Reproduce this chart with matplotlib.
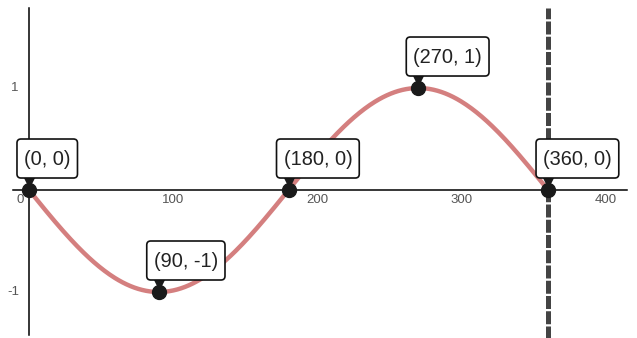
import numpy as np
import matplotlib
matplotlib.use('Agg')
import matplotlib.pyplot as plt
from matplotlib import transforms
from matplotlib.patches import FancyBboxPatch

# labelled points on the curve y = -sin(x), x in degrees
pt_x = [0, 90, 180, 270, 360]
pt_y = [0, -1, 0, 1, 0]
pt_labels = ['(0, 0)', '(90, -1)', '(180, 0)', '(270, 1)', '(360, 0)']
asymptote_x = 360
x_ticks = [100, 200, 300, 400]
y_ticks = [-1, 1]

plt.rcParams['font.family'] = ['Liberation Sans', 'DejaVu Sans']

fig = plt.figure(figsize=(6.37, 3.38), dpi=100)
ax = fig.add_axes([0, 0, 1, 1])
ax.set_xlim(-20.1, 421.7)
ax.set_ylim(-1.451, 1.863)

# axes through the origin
ax.plot([-11, 415], [0, 0], color='black', lw=1.1, zorder=1)
ax.plot([0, 0], [-1.42, 1.78], color='black', lw=1.1, zorder=1)
for s in ax.spines.values():
    s.set_visible(False)
ax.set_xticks([])
ax.set_yticks([])

for t in x_ticks:
    ax.text(t, -0.1, str(t), ha='center', va='center', fontsize=9.5, color='#555555')
ax.text(-6, -0.1, '0', ha='center', va='center', fontsize=9.5, color='#555555')
for t in y_ticks:
    ax.text(-7, t, str(t), ha='right', va='center', fontsize=9.5, color='#555555')

# curve
xs = np.linspace(0, 360, 400)
ax.plot(xs, -np.sin(np.radians(xs)), color='#d47f7f', lw=3.2, zorder=2,
        solid_capstyle='butt')

# dashed vertical line
ax.plot([asymptote_x, asymptote_x], [-1.5, 1.78], color='#444444', lw=3.6,
        dashes=(2.6, 0.45), zorder=3)

# points
ax.plot(pt_x, pt_y, 'o', color='#1a1a1a', ms=10, zorder=5)

# label boxes with pointer (box geometry in pixels)
tri = transforms.offset_copy(ax.transData, fig=fig, x=0, y=9, units='dots')
ax.plot(pt_x, pt_y, 'v', color='#1a1a1a', ms=8, transform=tri, zorder=6)
texts = []
for x, y, lab in zip(pt_x, pt_y, pt_labels):
    t = ax.annotate(lab, (x, y), xytext=(-5, 31), textcoords='offset pixels',
                    ha='left', va='center', fontsize=14.4, color='#222222', zorder=8)
    texts.append(t)

renderer = fig.canvas.get_renderer()
for x, y, t in zip(pt_x, pt_y, texts):
    px, py = ax.transData.transform((x, y))
    ext = t.get_window_extent(renderer)
    box = FancyBboxPatch((px - 12, py + 12), ext.width + 14, 39,
                         boxstyle='round,pad=0,rounding_size=4',
                         fc='white', ec='#111111', lw=1.2,
                         transform=transforms.IdentityTransform(), zorder=7)
    ax.add_artist(box)

fig.savefig('out.png', dpi=100)
